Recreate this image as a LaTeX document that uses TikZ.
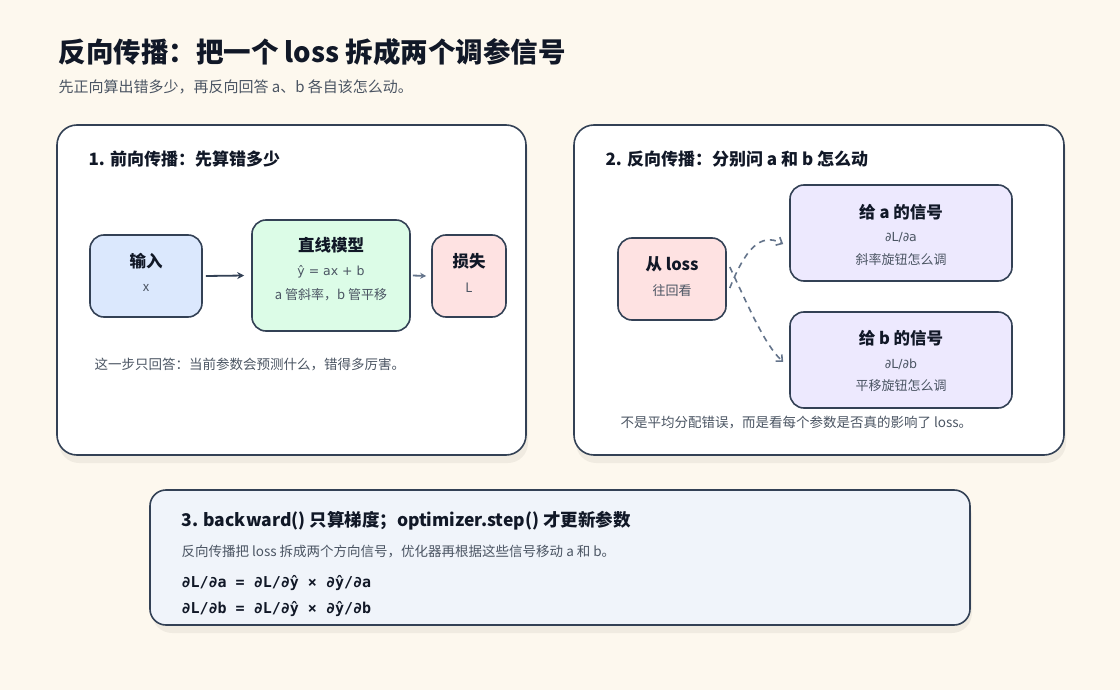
\documentclass[tikz,border=0pt]{standalone}
\usepackage{fontspec}
\setmainfont{Noto Sans CJK SC}
\newfontfamily\monof{DejaVu Sans Mono}
\newfontfamily\dvs{DejaVu Sans}
\usetikzlibrary{arrows.meta}
\definecolor{bg}{HTML}{FDF8EE}
\definecolor{ink}{HTML}{111827}
\definecolor{edge}{HTML}{334155}
\definecolor{sub}{HTML}{4B5563}
\definecolor{arr}{HTML}{64748B}
\definecolor{p3}{HTML}{F0F4FA}
\tikzset{
 x=1pt,y=-1pt,
 panel/.style={draw=edge,line width=1.6pt,rounded corners=20pt,fill=white},
 box/.style={draw=edge,line width=1.6pt,rounded corners=14pt},
 ttl/.style={anchor=west,font=\fontsize{17}{19}\selectfont\bfseries,text=ink},
 note/.style={anchor=west,font=\fontsize{13.5}{15}\selectfont,text=sub},
 lab/.style={font=\fontsize{16.5}{18}\selectfont\bfseries,text=ink},
 sl/.style={font=\fontsize{13}{15}\selectfont,text=sub},
 dash arrow/.style={draw=arr,line width=1.6pt,dash pattern=on 6pt off 5pt,-{Straight Barb[length=5pt,width=9pt]}},
}
\begin{document}
\begin{tikzpicture}
\fill[bg] (0,0) rectangle (1120,690);
\useasboundingbox (0,0) rectangle (1120,690);
\node[anchor=west,font=\fontsize{27.5}{30}\selectfont\bfseries,text=ink] (title) at (55,52) {反向传播：把一个 loss 拆成两个调参信号};
\node[anchor=west,font=\fontsize{15}{17}\selectfont,text=sub] (subt) at (55,87) {先正向算出错多少，再反向回答 a、b 各自该怎么动。};
% shadows
\foreach \a/\b/\c/\d in {57/125/526/455,574/125/1064/455,150/490/970/625}
  \fill[black,opacity=0.05,rounded corners=20pt] (\a+2,\b+6) rectangle (\c+2,\d+8);
\draw[panel] (57,125) rectangle (526,455);
\draw[panel] (574,125) rectangle (1064,455);
\draw[panel,fill=p3,rounded corners=16pt] (150,490) rectangle (970,625);
% panel 1
\node[ttl] (h1) at (85,159) {1. 前向传播：先算错多少};
\node[box,fill={rgb,255:red,219;green,232;blue,253},minimum width=112pt,minimum height=82pt,align=center] (in) at (146,276) {};
\node[lab] at (146,261) {输入};
\node[sl] at (146,288) {x};
\node[box,fill={rgb,255:red,220;green,252;blue,231},minimum width=158pt,minimum height=111pt] (mod) at (331,275.5) {};
\node[lab] at (331,245) {直线模型};
\node[sl,font=\dvs\fontsize{12.5}{15}\selectfont] at (331,272) {ŷ = ax + b};
\node[sl] at (331,295) {a 管斜率，b 管平移};
\node[box,fill={rgb,255:red,254;green,226;blue,226},minimum width=74pt,minimum height=82pt] (loss) at (469,276) {};
\node[lab] at (469,261) {损失};
\node[sl] at (469,288) {L};
\draw[edge,line width=1.8pt,-{Stealth[length=7pt,width=7pt]}] (in.east)++(3,0) -- ([xshift=-7pt]mod.west);
\draw[arr,line width=1.8pt,-{Stealth[length=6pt,width=6pt]}] (mod.east)++(2,0) -- ([xshift=-5pt]loss.west);
\node[note] (n1) at (91,365) {这一步只回答：当前参数会预测什么，错得多厉害。};
% panel 2
\node[ttl] (h2) at (602,159) {2. 反向传播：分别问 a 和 b 怎么动};
\node[box,fill={rgb,255:red,254;green,226;blue,226},minimum width=108pt,minimum height=82pt] (fl) at (672,279) {};
\node[lab] at (672,264) {从 loss};
\node[sl] at (672,291) {往回看};
\node[box,fill={rgb,255:red,237;green,233;blue,254},minimum width=222pt,minimum height=96pt] (ga) at (901,233) {};
\node[lab] at (901,212) {给 a 的信号};
\node[sl,font=\dvs\fontsize{12.5}{15}\selectfont] at (901,238) {∂L/∂a};
\node[sl] at (901,260) {斜率旋钮怎么调};
\node[box,fill={rgb,255:red,237;green,233;blue,254},minimum width=222pt,minimum height=96pt] (gb) at (901,360) {};
\node[lab] at (901,338) {给 b 的信号};
\node[sl,font=\dvs\fontsize{12.5}{15}\selectfont] at (901,364) {∂L/∂b};
\node[sl] at (901,386) {平移旋钮怎么调};
\draw[dash arrow] ([xshift=3pt,yshift=-9pt]fl.east) .. controls (745,250) and (760,232) .. ([xshift=-6pt,yshift=-11pt]ga.west);
\draw[dash arrow] ([xshift=3pt,yshift=12pt]fl.east) .. controls (750,310) and (765,345) .. ([xshift=-6pt,yshift=-2pt]gb.west);
\node[note] (n2) at (617,423) {不是平均分配错误，而是看每个参数是否真的影响了 loss。};
% panel 3
\node[anchor=west,font=\fontsize{17.5}{19}\selectfont\bfseries,text=ink] (h3) at (178,521) {3. backward() 只算梯度；optimizer.step() 才更新参数};
\node[note] (n3) at (178,552) {反向传播把 loss 拆成两个方向信号，优化器再根据这些信号移动 a 和 b。};
\node[anchor=west,font=\monof\bfseries\fontsize{15}{17}\selectfont,text=ink] (f1) at (178,583) {∂L/∂a = ∂L/∂ŷ × ∂ŷ/∂a};
\node[anchor=west,font=\monof\bfseries\fontsize{15}{17}\selectfont,text=ink] (f2) at (178,609) {∂L/∂b = ∂L/∂ŷ × ∂ŷ/∂b};
\end{tikzpicture}
\end{document}
